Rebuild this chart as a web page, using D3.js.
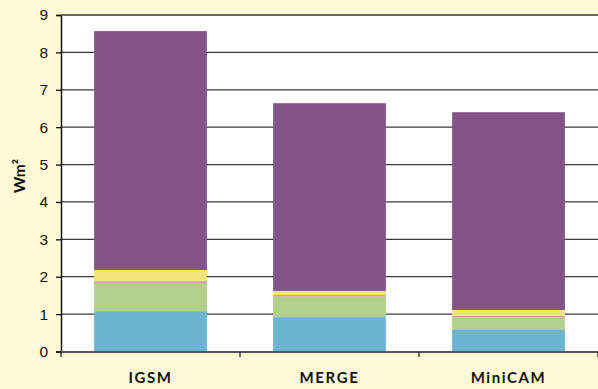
<!DOCTYPE html>
<html>
<head>
<meta charset="utf-8">
<script src="https://cdn.jsdelivr.net/npm/d3@7"></script>
<style>
  html, body { margin: 0; padding: 0; background: #FFF9D7; }
  svg { display: block; font-family: "Lato", "Open Sans", sans-serif; }
</style>
</head>
<body>
<svg id="chart" width="598" height="389"></svg>
<script>
// Radiative forcing by model, stacked by component
const models = ["IGSM", "MERGE", "MiniCAM"];
const layerKeys = ["blue", "green", "pink", "yellow", "purple"];
const blueVals   = [1.08, 0.92, 0.575];
const greenVals  = [0.75, 0.55, 0.34];
const pinkVals   = [0.05, 0.04, 0.04];
const yellowVals = [0.30, 0.11, 0.155];
const purpleVals = [6.39, 5.02, 5.29];
const yTicks = [0, 1, 2, 3, 4, 5, 6, 7, 8, 9];
const yLabel = "Wm²";

const colors = {
  blue: "#6BB5D2",
  green: "#B1D18A",
  pink: "#DF8EAB",
  yellow: "#F0E47B",
  purple: "#845488"
};

const rows = models.map((m, i) => ({
  model: m,
  blue: blueVals[i],
  green: greenVals[i],
  pink: pinkVals[i],
  yellow: yellowVals[i],
  purple: purpleVals[i]
}));

const svg = d3.select("#chart");
const margin = { left: 61, right: 0, top: 15, bottom: 37 };
const W = 598, H = 389;
const x0 = margin.left, x1 = W - margin.right;
const y0 = H - margin.bottom, y1 = margin.top;

const x = d3.scaleBand().domain(models).range([x0, x1]).paddingInner(0.37).paddingOuter(0.185);
const y = d3.scaleLinear().domain([0, 9]).range([y0 - 0.5, y1]);

// plot area
svg.append("rect").attr("x", x0).attr("y", y1).attr("width", x1 - x0).attr("height", y0 - y1).attr("fill", "#fff");

// gridlines
svg.append("g").selectAll("line").data(yTicks.filter(t => t > 0)).join("line")
  .attr("x1", x0).attr("x2", x1)
  .attr("y1", d => y(d)).attr("y2", d => y(d))
  .attr("stroke", "#3a3a3a").attr("stroke-width", 1.3);

// stacked bars
const stack = d3.stack().keys(layerKeys)(rows);
svg.append("g").selectAll("g").data(stack).join("g")
  .attr("fill", d => colors[d.key])
  .selectAll("rect").data(d => d).join("rect")
  .attr("x", d => x(d.data.model))
  .attr("width", x.bandwidth())
  .attr("y", d => y(d[1]))
  .attr("height", d => y(d[0]) - y(d[1]));

// y axis
const yAxis = d3.axisLeft(y).tickValues(yTicks).tickSize(5).tickPadding(8).tickFormat(d3.format("d"));
const gy = svg.append("g").attr("transform", `translate(${x0},0)`).call(yAxis);
gy.select(".domain").attr("stroke", "#111").attr("stroke-width", 1.5);
gy.selectAll(".tick line").attr("stroke", "#111").attr("stroke-width", 1.3);
gy.selectAll(".tick text").attr("font-size", 15.5).attr("fill", "#111");

// x axis
const xEdges = d3.range(models.length + 1).map(i => x0 + i * (x1 - x0) / models.length);
svg.append("line").attr("x1", x0).attr("x2", x1).attr("y1", y0).attr("y2", y0)
  .attr("stroke", "#555").attr("stroke-width", 2);
svg.append("g").selectAll("line").data(xEdges).join("line")
  .attr("x1", d => d).attr("x2", d => d).attr("y1", y0).attr("y2", y0 + 5)
  .attr("stroke", "#222").attr("stroke-width", 1.3);
svg.append("g").selectAll("text").data(models).join("text")
  .attr("x", d => x(d) + x.bandwidth() / 2)
  .attr("y", y0 + 31)
  .attr("text-anchor", "middle")
  .attr("font-size", 15).attr("font-weight", "bold").attr("fill", "#111")
  .attr("letter-spacing", 1.6)
  .text(d => d);

// top border
svg.append("line").attr("x1", x0).attr("x2", x1).attr("y1", y1).attr("y2", y1)
  .attr("stroke", "#666").attr("stroke-width", 1.3);

// y label
svg.append("text")
  .attr("transform", `translate(25,176) rotate(-90)`)
  .attr("text-anchor", "middle")
  .attr("font-size", 15.5).attr("font-weight", "bold").attr("fill", "#111")
  .text(yLabel);
</script>
</body>
</html>
